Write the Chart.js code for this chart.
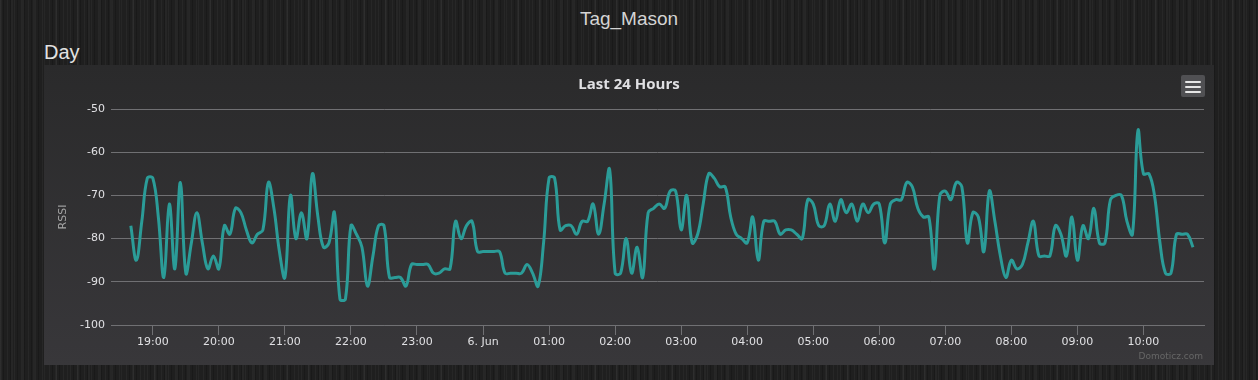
<!DOCTYPE html>
<html>
<head>
<meta charset="utf-8">
<script src="https://cdn.jsdelivr.net/npm/chart.js@4.4.0/dist/chart.umd.min.js"></script>
<style>
  html, body { margin: 0; padding: 0; }
  body {
    width: 1258px; height: 380px; overflow: hidden; position: relative;
    background-color: #1f1f1f;
    background-image:
      repeating-linear-gradient(90deg, rgba(255,255,255,0.035) 0px, rgba(255,255,255,0.035) 1px, transparent 1px, transparent 3px, rgba(0,0,0,0.18) 3px, rgba(0,0,0,0.18) 4px, transparent 4px, transparent 7px),
      repeating-linear-gradient(90deg, rgba(255,255,255,0.03) 0px, rgba(255,255,255,0.03) 2px, transparent 2px, transparent 11px);
    font-family: "Liberation Sans", Arial, sans-serif;
  }
  #pageTitle { position: absolute; left: 0; top: 8px; width: 1258px; text-align: center; font-size: 19px; color: #d4d4d4; }
  #dayLabel { position: absolute; left: 44px; top: 41px; font-size: 20px; color: #e2e2e2; }
  #panel { position: absolute; left: 44px; top: 65px; width: 1170px; height: 300px; background: linear-gradient(#2a2a2b, #38373a); }
  #menuBtn { position: absolute; left: 1137px; top: 10px; width: 24px; height: 22px; background: #505053; border-radius: 2px; }
  #menuBtn span { position: absolute; left: 4px; width: 16px; height: 2px; background: #e6e6e6; border-radius: 1px; }
  #credits { position: absolute; right: 11px; top: 286px; font-family: "DejaVu Sans", sans-serif; font-size: 9px; color: #666; }
</style>
</head>
<body>
<div id="pageTitle">Tag_Mason</div>
<div id="dayLabel">Day</div>
<div id="panel">
  <canvas id="c" width="1170" height="300"></canvas>
  <div id="menuBtn"><span style="top:6px"></span><span style="top:11px"></span><span style="top:16px"></span></div>
  <div id="credits">Domoticz.com</div>
</div>
<script>
// ---- data ----
const times = [
  "18:40","18:45","18:50","18:55",
  "19:00","19:05","19:10","19:15","19:20","19:25","19:30","19:35","19:40","19:45","19:50","19:55",
  "20:00","20:05","20:10","20:15","20:20","20:25","20:30","20:35","20:40","20:45","20:50","20:55",
  "21:00","21:05","21:10","21:15","21:20","21:25","21:30","21:35","21:40","21:45","21:50","21:55",
  "22:00","22:05","22:10","22:15","22:20","22:25","22:30","22:35","22:40","22:45","22:50","22:55",
  "23:00","23:05","23:10","23:15","23:20","23:25","23:30","23:35","23:40","23:45","23:50","23:55",
  "00:00","00:05","00:10","00:15","00:20","00:25","00:30","00:35","00:40","00:45","00:50","00:55",
  "01:00","01:05","01:10","01:15","01:20","01:25","01:30","01:35","01:40","01:45","01:50","01:55",
  "02:00","02:05","02:10","02:15","02:20","02:25","02:30","02:35","02:40","02:45","02:50","02:55",
  "03:00","03:05","03:10","03:15","03:20","03:25","03:30","03:35","03:40","03:45","03:50","03:55",
  "04:00","04:05","04:10","04:15","04:20","04:25","04:30","04:35","04:40","04:45","04:50","04:55",
  "05:00","05:05","05:10","05:15","05:20","05:25","05:30","05:35","05:40","05:45","05:50","05:55",
  "06:00","06:05","06:10","06:15","06:20","06:25","06:30","06:35","06:40","06:45","06:50","06:55",
  "07:00","07:05","07:10","07:15","07:20","07:25","07:30","07:35","07:40","07:45","07:50","07:55",
  "08:00","08:05","08:10","08:15","08:20","08:25","08:30","08:35","08:40","08:45","08:50","08:55",
  "09:00","09:05","09:10","09:15","09:20","09:25","09:30","09:35","09:40","09:45","09:50","09:55",
  "10:00","10:05","10:10","10:15","10:20","10:25","10:30","10:35","10:40","10:45"
];
const rssi = [
  -77,-85,-76,-66,
  -66,-75,-89,-72,-87,-67,-88,-81,-74,-81,-87,-84,
  -87,-77,-79,-73,-74,-78,-81,-79,-78,-67,-73,-83,
  -89,-70,-80,-74,-80,-65,-75,-82,-81,-74,-94,-94,
  -77,-79,-82,-91,-84,-77,-77,-89,-89,-89,-91,-86,
  -86,-86,-86,-88,-88,-87,-87,-76,-80,-77,-76,-83,
  -83,-83,-83,-83,-88,-88,-88,-88,-86,-88,-91,-81,
  -66,-66,-78,-77,-77,-79,-76,-76,-72,-79,-72,-64,
  -88,-88,-80,-88,-82,-89,-74,-73,-72,-73,-69,-69,
  -78,-70,-81,-79,-72,-65,-66,-68,-68,-75,-79,-80,
  -81,-75,-85,-76,-76,-76,-79,-78,-78,-79,-80,-71,
  -72,-77,-77,-72,-76,-71,-74,-72,-76,-72,-74,-72,
  -72,-81,-72,-71,-71,-67,-68,-73,-75,-75,-87,-70,
  -69,-71,-67,-68,-81,-74,-75,-83,-69,-76,-84,-89,
  -85,-87,-86,-81,-76,-84,-84,-84,-77,-79,-84,-75,
  -85,-77,-80,-73,-81,-81,-71,-70,-70,-76,-79,-55,
  -65,-65,-70,-81,-88,-88,-79,-79,-79,-82
];
const tickTimes = ["19:00","20:00","21:00","22:00","23:00","00:00","01:00","02:00","03:00","04:00","05:00","06:00","07:00","08:00","09:00","10:00"];
const tickLabels = ["19:00","20:00","21:00","22:00","23:00","6. Jun","01:00","02:00","03:00","04:00","05:00","06:00","07:00","08:00","09:00","10:00"];
const yTicks = [-100, -90, -80, -70, -60, -50];
const xRange = ["18:22", "10:55"];

// minutes since 18:00 on the first day
function toMin(t) {
  const [h, m] = t.split(":").map(Number);
  let v = h * 60 + m;
  if (h < 18) v += 1440;
  return v - 1080;
}

const points = times.map((t, i) => ({ x: toMin(t), y: rssi[i] }));
const tickPos = tickTimes.map(toMin);

const gridCol = '#707073';
const labelCol = '#e0e0e3';

new Chart(document.getElementById('c'), {
  type: 'line',
  data: {
    datasets: [{
      label: 'RSSI',
      data: points,
      borderColor: '#2b9c98',
      borderWidth: 3,
      pointRadius: 0,
      pointHoverRadius: 0,
      tension: 0.4,
      fill: false
    }]
  },
  options: {
    responsive: false,
    animation: false,
    devicePixelRatio: 1,
    layout: { padding: { left: 10, right: 10, top: 0, bottom: 0 } },
    plugins: {
      legend: { display: false },
      tooltip: { enabled: false },
      title: {
        display: true,
        text: 'Last 24 Hours',
        color: labelCol,
        font: { family: '"Open Sans", "DejaVu Sans", sans-serif', size: 15, weight: 'bold', lineHeight: 1.2 },
        padding: { top: 11, bottom: 15 }
      }
    },
    scales: {
      x: {
        type: 'linear',
        min: toMin(xRange[0]),
        max: toMin(xRange[1]),
        afterBuildTicks: (scale) => { scale.ticks = tickPos.map(v => ({ value: v })); },
        afterFit: (scale) => { scale.height = 40; },
        ticks: {
          autoSkip: false,
          maxRotation: 0,
          color: labelCol,
          padding: 1,
          font: { family: '"DejaVu Sans", sans-serif', size: 11 },
          callback: (v) => { const i = tickPos.indexOf(v); return i >= 0 ? tickLabels[i] : ''; }
        },
        grid: { drawOnChartArea: false, drawTicks: true, tickLength: 10, color: gridCol },
        border: { display: true, color: gridCol, width: 1 }
      },
      y: {
        min: yTicks[0],
        max: yTicks[yTicks.length - 1],
        afterBuildTicks: (scale) => { scale.ticks = yTicks.map(v => ({ value: v })); },
        afterFit: (scale) => { scale.width = 57; },
        ticks: {
          color: labelCol,
          padding: 6,
          font: { family: '"DejaVu Sans", sans-serif', size: 11 }
        },
        grid: { color: gridCol, drawTicks: false },
        border: { display: false },
        title: {
          display: true,
          text: 'RSSI',
          color: '#a6a6a6',
          font: { family: '"DejaVu Sans", sans-serif', size: 11 },
          padding: { top: 3, bottom: 0 }
        }
      }
    }
  }
});
</script>
</body>
</html>
